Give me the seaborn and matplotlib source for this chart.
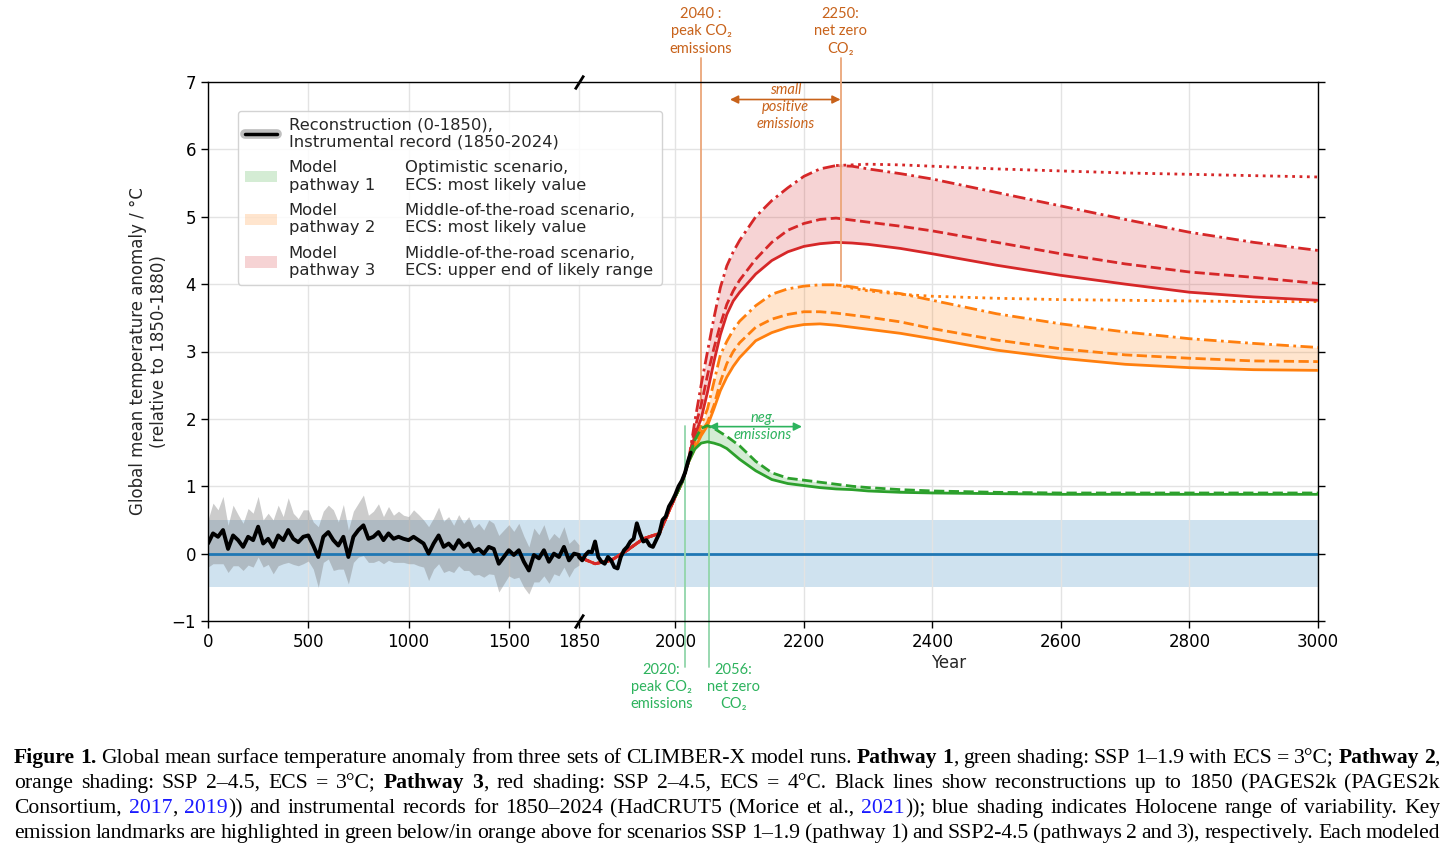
import numpy as np
import matplotlib
matplotlib.use("Agg")
import matplotlib.pyplot as plt
import seaborn as sns
from matplotlib.lines import Line2D
from matplotlib.patches import Patch

# ---------------- data ----------------
recon_years = list(range(0, 1851, 25))
recon_temp = [
    0.15, 0.30, 0.25, 0.35, 0.07, 0.27, 0.20, 0.10, 0.25, 0.20,
    0.40, 0.15, 0.22, 0.10, 0.27, 0.20, 0.35, 0.22, 0.17, 0.25,
    0.27, 0.12, -0.05, 0.25, 0.32, 0.20, 0.12, 0.25, -0.05, 0.25,
    0.35, 0.42, 0.22, 0.25, 0.32, 0.20, 0.30, 0.22, 0.25, 0.22,
    0.20, 0.25, 0.20, 0.15, 0.00, 0.15, 0.27, 0.10, 0.15, 0.07,
    0.20, 0.10, 0.15, 0.03, 0.07, 0.00, 0.10, 0.07, -0.15, -0.05,
    0.05, -0.02, 0.05, -0.12, -0.25, -0.02, -0.07, 0.05, -0.12, 0.00,
    -0.05, 0.10, -0.10, 0.00, -0.02,
]
recon_spread = [
    0.35, 0.45, 0.40, 0.50, 0.35, 0.45, 0.38, 0.35, 0.42, 0.40,
    0.45, 0.35, 0.38, 0.40, 0.45, 0.35, 0.48, 0.38, 0.35, 0.40,
    0.38, 0.35, 0.45, 0.38, 0.40, 0.45, 0.35, 0.48, 0.40, 0.38,
    0.40, 0.45, 0.35, 0.38, 0.42, 0.35, 0.40, 0.35, 0.38, 0.35,
    0.35, 0.40, 0.38, 0.35, 0.40, 0.38, 0.42, 0.38, 0.40, 0.35,
    0.38, 0.35, 0.40, 0.35, 0.38, 0.35, 0.40, 0.38, 0.42, 0.40,
    0.38, 0.35, 0.40, 0.38, 0.35, 0.40, 0.35, 0.38, 0.32, 0.30,
    0.28, 0.30, 0.25, 0.22, 0.15,
]

instr_years = list(range(1850, 2021, 5)) + [2024]
instr_temp = [
    -0.05, -0.10, -0.02, 0.03, 0.02, 0.18, -0.05, -0.12, -0.15, -0.05,
    -0.10, -0.20, -0.22, -0.05, 0.05, 0.10, 0.18, 0.22, 0.45, 0.30,
    0.18, 0.20, 0.12, 0.10, 0.20, 0.30, 0.50, 0.55, 0.70, 0.78,
    0.88, 1.00, 1.08, 1.20, 1.38, 1.50,
]

model_years = [1850, 1875, 1900, 1925, 1950, 1975, 2000, 2010, 2020,
               2030, 2040, 2050, 2060, 2070, 2080, 2090, 2100,
               2125, 2150, 2175, 2200, 2225, 2250, 2275, 2300,
               2350, 2400, 2500, 2600, 2700, 2800, 2900, 3000]
model_hist = [-0.05, -0.15, -0.10, 0.05, 0.22, 0.30, 0.85, 1.05, 1.35]

# pathway 3 (SSP2-4.5, ECS 4 C)
p3_low = model_hist + [1.75, 2.00, 2.40, 2.85, 3.25, 3.55, 3.75, 3.88,
                       4.15, 4.35, 4.48, 4.56, 4.60, 4.62, 4.61, 4.59,
                       4.53, 4.45, 4.28, 4.13, 4.00, 3.88, 3.81, 3.76]
p3_mid = model_hist + [1.85, 2.20, 2.65, 3.05, 3.40, 3.70, 3.90, 4.06,
                       4.37, 4.62, 4.80, 4.90, 4.96, 4.98, 4.95, 4.92,
                       4.86, 4.79, 4.62, 4.45, 4.30, 4.18, 4.10, 4.01]
p3_high = model_hist + [1.95, 2.50, 3.00, 3.50, 3.95, 4.27, 4.48, 4.65,
                        5.00, 5.24, 5.43, 5.60, 5.71, 5.76, 5.75, 5.71,
                        5.64, 5.56, 5.36, 5.16, 4.96, 4.77, 4.62, 4.50]
# pathway 2 (SSP2-4.5, ECS 3 C)
p2_low = model_hist + [1.55, 1.75, 1.90, 2.15, 2.42, 2.62, 2.78, 2.91,
                       3.16, 3.28, 3.36, 3.40, 3.41, 3.39, 3.36, 3.33,
                       3.27, 3.19, 3.02, 2.90, 2.81, 2.76, 2.73, 2.72]
p2_mid = model_hist + [1.60, 1.80, 1.95, 2.20, 2.55, 2.82, 3.00, 3.13,
                       3.36, 3.48, 3.55, 3.59, 3.59, 3.57, 3.54, 3.51,
                       3.44, 3.34, 3.17, 3.04, 2.95, 2.90, 2.86, 2.85]
p2_high = model_hist + [1.65, 1.90, 2.15, 2.55, 2.95, 3.15, 3.32, 3.45,
                        3.68, 3.85, 3.93, 3.97, 3.99, 3.99, 3.96, 3.92,
                        3.86, 3.76, 3.56, 3.41, 3.29, 3.19, 3.12, 3.06]

dotted_years = [2250, 2275, 2300, 2350, 2400, 2500, 2600, 2700, 2800, 2900, 3000]
p3_dotted = [5.76, 5.77, 5.78, 5.77, 5.75, 5.71, 5.68, 5.65, 5.63, 5.61, 5.59]
p2_dotted = [3.99, 3.94, 3.90, 3.85, 3.82, 3.79, 3.77, 3.76, 3.75, 3.74, 3.74]

# pathway 1 (SSP1-1.9, ECS 3 C)
p1_years = [2000, 2010, 2020, 2030, 2040, 2050, 2060, 2070, 2080, 2090, 2100,
            2125, 2150, 2175, 2200, 2225, 2250, 2275, 2300, 2350, 2400,
            2500, 2600, 2700, 2800, 2900, 3000]
p1_low = [0.85, 1.05, 1.35, 1.55, 1.64, 1.66, 1.64, 1.61, 1.56, 1.48, 1.40,
          1.23, 1.10, 1.04, 1.01, 0.98, 0.96, 0.95, 0.93, 0.91, 0.90,
          0.89, 0.88, 0.88, 0.88, 0.88, 0.88]
p1_high = [0.85, 1.05, 1.38, 1.68, 1.86, 1.90, 1.86, 1.80, 1.74, 1.67, 1.60,
           1.37, 1.20, 1.12, 1.09, 1.06, 1.03, 1.00, 0.98, 0.95, 0.93,
           0.91, 0.90, 0.90, 0.90, 0.90, 0.90]

# emission landmarks (positions as drawn in the figure)
ssp245_peak, ssp245_netzero = 2040, 2257
ssp119_peak, ssp119_netzero = 2015, 2052

legend_labels = ["Reconstruction (0-1850),\nInstrumental record (1850-2024)",
                 "Model\npathway 1", "Model\npathway 2", "Model\npathway 3"]
legend_desc = ["Optimistic scenario,\nECS: most likely value",
               "Middle-of-the-road scenario,\nECS: most likely value",
               "Middle-of-the-road scenario,\nECS: upper end of likely range"]

caption_lines = [
    [("Figure 1.", "bold", "black"),
     ("  Global mean surface temperature anomaly from three sets of CLIMBER-X model runs. ", "normal", "black"),
     ("Pathway 1", "bold", "black"),
     (", green shading: SSP 1–1.9 with ECS = 3°C; ", "normal", "black"),
     ("Pathway 2", "bold", "black"), (",", "normal", "black")],
    [("orange shading: SSP 2–4.5, ECS = 3°C; ", "normal", "black"),
     ("Pathway 3", "bold", "black"),
     (", red shading: SSP 2–4.5, ECS = 4°C. Black lines show reconstructions up to 1850 (PAGES2k (PAGES2k", "normal", "black")],
    [("Consortium, ", "normal", "black"), ("2017", "normal", "#1a1aff"), (", ", "normal", "black"),
     ("2019", "normal", "#1a1aff"),
     (")) and instrumental records for 1850–2024 (HadCRUT5 (Morice et al., ", "normal", "black"),
     ("2021", "normal", "#1a1aff"),
     (")); blue shading indicates Holocene range of variability. Key", "normal", "black")],
    [("emission landmarks are highlighted in green below/in orange above for scenarios SSP 1–1.9 "
      "(pathway 1) and SSP2-4.5 (pathways 2 and 3), respectively. Each modeled", "normal", "black")],
]

# ---------------- style ----------------
sns.set_theme(style="ticks", rc={"axes.edgecolor": "black", "grid.color": "#e3e3e3",
                                 "xtick.color": "black", "ytick.color": "black"})
plt.rcParams["font.family"] = ["DejaVu Sans"]

RED, ORANGE, GREEN = "#d62728", "#ff7f0e", "#2ca02c"
OR_TXT, OR_LN = "#c8621a", "#eba679"
GR_TXT, GR_LN = "#2db35d", "#91d5aa"
ANN_FONT = ["Lato", "DejaVu Sans"]
LEG_FS, LEG_LS = 11.8, 1.2

# broken time axis: 0-1850 compressed, 1850-3000 stretched
BREAK = 1850
S_LEFT = 371 / 1850
S_RIGHT = 739 / 1150


def fwd(x):
    x = np.asarray(x, dtype=float)
    return np.where(x <= BREAK, x * S_LEFT, BREAK * S_LEFT + (x - BREAK) * S_RIGHT)


def inv(u):
    u = np.asarray(u, dtype=float)
    return np.where(u <= BREAK * S_LEFT, u / S_LEFT, BREAK + (u - BREAK * S_LEFT) / S_RIGHT)


W, H = 1456, 849
fig = plt.figure(figsize=(W / 100, H / 100), dpi=100)
ax = fig.add_axes([208 / W, 1 - 621 / H, 1110 / W, 539 / H])
ax.set_xscale("function", functions=(fwd, inv))


def line(x, y, color, ls="-", lw=2.0, z=3):
    sns.lineplot(x=x, y=y, color=color, linestyle=ls, linewidth=lw, ax=ax,
                 zorder=z, sort=False, errorbar=None)


# Holocene range and zero line
ax.axhspan(-0.5, 0.5, color="#1f77b4", alpha=0.21, lw=0, zorder=0.2)

# reconstruction uncertainty
lo = np.array(recon_temp) - np.array(recon_spread)
hi = np.array(recon_temp) + np.array(recon_spread)
ax.fill_between(recon_years, lo, hi, color="grey", alpha=0.4, lw=0, zorder=1)
ax.axhline(0, color="#1f77b4", lw=2, zorder=1.5)

# landmark lines (behind the curves)
ax.plot([ssp245_peak] * 2, [7.35, 2.2], color=OR_LN, lw=1.3, clip_on=False, zorder=1.8)
ax.plot([ssp245_netzero] * 2, [7.35, 4.04], color=OR_LN, lw=1.3, clip_on=False, zorder=3.5)
for yr in (ssp119_peak, ssp119_netzero):
    ax.plot([yr, yr], [1.89, -1.68], color=GR_LN, lw=1.3, clip_on=False, zorder=1.8)

# shading
ax.fill_between(model_years, p3_low, p3_high, color=RED, alpha=0.2, lw=0, zorder=2)
ax.fill_between(model_years, p2_low, p2_high, color=ORANGE, alpha=0.2, lw=0, zorder=2)
ax.fill_between(p1_years, p1_low, p1_high, color=GREEN, alpha=0.2, lw=0, zorder=2)

# model curves
for col, low, mid, high, dot in [(ORANGE, p2_low, p2_mid, p2_high, p2_dotted),
                                 (RED, p3_low, p3_mid, p3_high, p3_dotted)]:
    line(model_years, low, col, "-")
    line(model_years, mid, col, "--")
    line(model_years, high, col, (0, (4.5, 1.6, 1, 1.6)))
    line(dotted_years, dot, col, ":")
line(p1_years, p1_low, GREEN, "-")
line(p1_years, p1_high, GREEN, "--")

# observations
line(recon_years, recon_temp, "black", "-", lw=2.8, z=4)
line(instr_years, instr_temp, "black", "-", lw=2.8, z=4)

# axes
ax.set_xlim(0, 3000)
ax.set_ylim(-1, 7)
ax.set_xticks([0, 500, 1000, 1500, 1850, 2000, 2200, 2400, 2600, 2800, 3000])
ax.set_yticks(range(-1, 8))
ax.tick_params(axis="both", labelsize=12, direction="out", length=5, width=1)
ax.tick_params(axis="y", right=True)
ax.set_axisbelow(True)
ax.grid(True, color="#e3e3e3", lw=1)
for tick in ax.xaxis.get_major_ticks():
    if tick.get_loc() == BREAK:
        tick.gridline.set_visible(False)
for sp in ax.spines.values():
    sp.set_visible(True)
    sp.set_color("black")
    sp.set_linewidth(1)

ax.set_xlabel("Year", fontsize=12)
ax.xaxis.set_label_coords(0.667, -0.062)
ax.set_ylabel("Global mean temperature anomaly / °C\n(relative to 1850-1880)", fontsize=12)
ax.yaxis.set_label_coords(-0.036, 0.5)

# axis break marks
for yy in (0, 1):
    ax.plot([BREAK], [yy], transform=ax.get_xaxis_transform(), marker=[(-1, -1.6), (1, 1.6)],
            markersize=10, markeredgewidth=2, color="black", markerfacecolor="none",
            clip_on=False, zorder=6)

# annotations: SSP2-4.5 above, SSP1-1.9 below
ann = dict(fontsize=10.5, family=ANN_FONT, ha="center", va="center", linespacing=1.3)
ax.text(ssp245_peak, 7.75, "2040 :\npeak CO₂\nemissions", color=OR_TXT, clip_on=False, **ann)
ax.text(ssp245_netzero, 7.75, "2250:\nnet zero\nCO₂", color=OR_TXT, clip_on=False, **ann)
ax.annotate("", xy=(2085, 6.74), xytext=(ssp245_netzero, 6.74),
            arrowprops=dict(arrowstyle="<|-|>", color=OR_TXT, lw=1.2, mutation_scale=12,
                            shrinkA=0, shrinkB=0))
ax.text(2171, 6.63, "small\npositive\nemissions", color=OR_TXT, style="italic", **ann)

ax.annotate("", xy=(ssp119_netzero, 1.885), xytext=(2197, 1.885),
            arrowprops=dict(arrowstyle="<|-|>", color=GR_TXT, lw=1.2, mutation_scale=12,
                            shrinkA=0, shrinkB=0))
ax.text(2136, 1.885, "neg.\nemissions", color=GR_TXT, style="italic", **ann)
ax.text(1978, -1.98, "2020:\npeak CO₂\nemissions", color=GR_TXT, clip_on=False, **ann)
ax.text(2090, -1.98, "2056:\nnet zero\nCO₂", color=GR_TXT, clip_on=False, **ann)

# legend
handles = [(Line2D([], [], color="grey", alpha=0.5, lw=7), Line2D([], [], color="black", lw=2.5)),
           Patch(facecolor=GREEN, alpha=0.2, edgecolor="none"),
           Patch(facecolor=ORANGE, alpha=0.2, edgecolor="none"),
           Patch(facecolor=RED, alpha=0.2, edgecolor="none")]
leg = ax.legend(handles, legend_labels, loc="upper left", mode="expand",
                bbox_to_anchor=(30 / 1110, 0.3, 424 / 1110, (621 - 111) / 539 - 0.3),
                borderaxespad=0, fontsize=LEG_FS, labelspacing=0.63, handletextpad=0.7,
                frameon=True, fancybox=True, framealpha=0.85, edgecolor="#cccccc")
leg.set_zorder(7)

fig.canvas.draw()
renderer = fig.canvas.get_renderer()
for txt, desc in zip(leg.get_texts()[1:], legend_desc):
    bb = txt.get_window_extent(renderer)
    fig.text(405 / W, (bb.y0 + bb.y1) / 2 / H, desc, fontsize=LEG_FS, linespacing=LEG_LS,
             ha="left", va="center", zorder=8)


# caption, justified between x0 and x1
def caption_line(runs, y_px, x0=14, x1=1440, size=15.6):
    words, cur = [], []
    for text, weight, color in runs:
        for i, part in enumerate(text.split(" ")):
            if i > 0 and cur:
                words.append(cur)
                cur = []
            if part:
                cur.append((part, weight, color))
    if cur:
        words.append(cur)
    placed, total = [], 0.0
    for w in words:
        pieces = []
        for s, weight, color in w:
            t = fig.text(0, 0, s, fontsize=size, family="Liberation Serif", weight=weight,
                         color=color, va="baseline", ha="left")
            wd = t.get_window_extent(renderer).width
            pieces.append((t, wd))
            total += wd
        placed.append(pieces)
    gap = (x1 - x0 - total) / max(len(placed) - 1, 1)
    x = x0
    for pieces in placed:
        for t, wd in pieces:
            t.set_position((x / W, 1 - y_px / H))
            x += wd
        x += gap


for k, runs in enumerate(caption_lines):
    caption_line(runs, 763 + 25 * k)

fig.savefig("out.png", dpi=100)
